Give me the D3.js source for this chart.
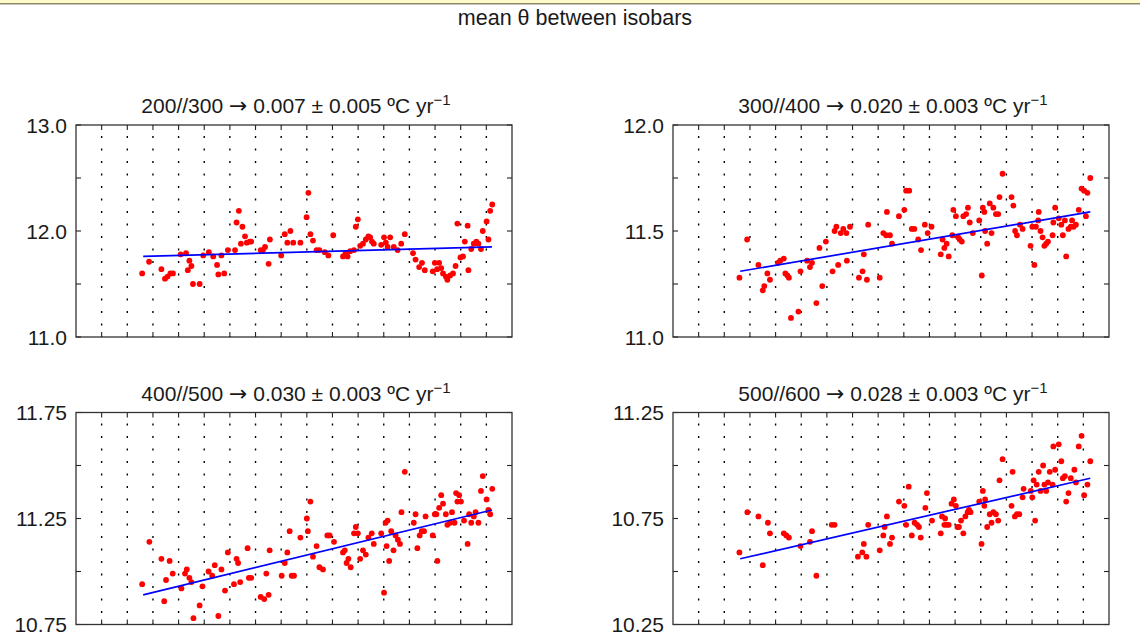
<!DOCTYPE html>
<html>
<head>
<meta charset="utf-8">
<script src="https://cdn.jsdelivr.net/npm/d3@7"></script>
<style>
body { margin: 0; background: #fff; }
text { font-family: "Liberation Sans", Arial, Helvetica, sans-serif; fill: #1a1a1a; }
</style>
</head>
<body>
<svg id="chart" width="1140" height="635"></svg>
<script>
const width = 1140;
const height = 635;

const mainTitle = "mean θ between isobars";
const layerNames = ["200//300", "300//400", "400//500", "500//600"];
const trendRates = ["0.007", "0.020", "0.030", "0.028"];
const trendErrors = ["0.005", "0.003", "0.003", "0.003"];

const yearStart = 1990;
const yearEnd = 2007;

const yDomains = [[11.0, 13.0], [11.0, 12.0], [10.75, 11.75], [10.25, 11.25]];
const yTicks = [
    [11.0, 11.5, 12.0, 12.5, 13.0],
    [11.0, 11.25, 11.5, 11.75, 12.0],
    [10.75, 11.0, 11.25, 11.5, 11.75],
    [10.25, 10.5, 10.75, 11.0, 11.25]
];
const yLabels = [[11.0, 12.0, 13.0], [11.0, 11.5, 12.0], [10.75, 11.25, 11.75], [10.25, 10.75, 11.25]];
const yFormats = [".1f", ".1f", ".2f", ".2f"];

// fitted trend lines, [year, theta] at start and end
const trendEnds = [
    [[1992.62, 11.76], [2006.22, 11.85]],
    [[1992.62, 11.31], [2006.27, 11.59]],
    [[1992.62, 10.89], [2006.22, 11.29]],
    [[1992.62, 10.56], [2006.27, 10.94]]
];

// mean theta (ºC) between isobars, [year, value]
const layer200_300 = [[1992.58,11.60],[1992.85,11.71],[1993.33,11.64],[1993.47,11.55],[1993.57,11.57],[1993.68,11.60],[1993.78,11.60],[1994.08,11.78],[1994.29,11.79],[1994.36,11.63],[1994.42,11.72],[1994.50,11.67],[1994.56,11.50],[1994.82,11.50],[1994.96,11.77],[1995.18,11.80],[1995.35,11.76],[1995.50,11.68],[1995.55,11.59],[1995.67,11.77],[1995.78,11.60],[1995.92,11.82],[1996.20,11.82],[1996.26,12.08],[1996.35,12.19],[1996.43,11.88],[1996.49,12.04],[1996.59,11.95],[1996.66,11.89],[1996.77,11.90],[1996.83,11.90],[1997.20,11.82],[1997.29,11.82],[1997.37,11.85],[1997.51,11.69],[1997.56,11.92],[1998.00,11.77],[1998.14,11.97],[1998.24,11.89],[1998.36,12.00],[1998.47,11.89],[1998.75,11.89],[1998.99,12.13],[1999.06,12.36],[1999.14,11.97],[1999.24,11.91],[1999.38,11.82],[1999.49,11.82],[1999.70,11.80],[1999.84,11.77],[2000.03,11.96],[2000.41,11.76],[2000.51,11.79],[2000.59,11.76],[2000.69,11.81],[2000.84,11.82],[2000.91,12.04],[2000.99,12.11],[2001.08,11.86],[2001.19,11.88],[2001.30,11.92],[2001.40,11.95],[2001.47,11.94],[2001.54,11.90],[2001.61,11.88],[2001.90,11.87],[2002.01,11.94],[2002.08,11.89],[2002.15,11.85],[2002.25,11.94],[2002.39,11.85],[2002.54,11.82],[2002.68,11.88],[2002.82,11.97],[2003.14,11.79],[2003.24,11.73],[2003.38,11.66],[2003.49,11.70],[2003.60,11.63],[2003.91,11.62],[2003.99,11.70],[2004.08,11.64],[2004.16,11.70],[2004.24,11.65],[2004.31,11.60],[2004.42,11.57],[2004.48,11.54],[2004.59,11.58],[2004.70,11.60],[2004.80,11.67],[2004.87,12.07],[2004.99,11.75],[2005.09,11.76],[2005.16,11.90],[2005.27,12.05],[2005.30,11.63],[2005.41,11.83],[2005.51,11.88],[2005.61,11.90],[2005.69,11.88],[2005.79,11.83],[2005.86,12.00],[2006.01,12.09],[2006.08,11.92],[2006.15,12.19],[2006.23,12.25]];

const layer300_400 = [[1992.59,11.28],[1992.89,11.46],[1993.33,11.34],[1993.50,11.22],[1993.56,11.24],[1993.68,11.30],[1993.78,11.27],[1994.09,11.35],[1994.18,11.36],[1994.32,11.37],[1994.38,11.30],[1994.46,11.29],[1994.52,11.28],[1994.60,11.09],[1994.89,11.12],[1994.97,11.31],[1995.23,11.36],[1995.34,11.33],[1995.42,11.35],[1995.59,11.16],[1995.71,11.42],[1995.82,11.24],[1995.96,11.45],[1996.22,11.31],[1996.30,11.50],[1996.37,11.52],[1996.44,11.34],[1996.54,11.49],[1996.64,11.51],[1996.76,11.49],[1996.78,11.36],[1996.90,11.52],[1997.25,11.28],[1997.39,11.31],[1997.44,11.39],[1997.56,11.27],[1997.61,11.53],[1998.06,11.28],[1998.20,11.49],[1998.31,11.48],[1998.34,11.59],[1998.46,11.48],[1998.54,11.44],[1998.81,11.57],[1999.02,11.60],[1999.09,11.69],[1999.21,11.69],[1999.31,11.51],[1999.41,11.51],[1999.56,11.46],[1999.67,11.41],[1999.82,11.53],[1999.93,11.49],[2000.08,11.52],[2000.44,11.39],[2000.51,11.46],[2000.58,11.42],[2000.67,11.44],[2000.75,11.38],[2000.89,11.48],[2000.93,11.60],[2001.03,11.57],[2001.12,11.47],[2001.18,11.46],[2001.26,11.45],[2001.32,11.57],[2001.43,11.58],[2001.50,11.61],[2001.57,11.54],[2001.69,11.49],[2001.94,11.55],[2002.04,11.29],[2002.08,11.61],[2002.14,11.59],[2002.17,11.50],[2002.25,11.44],[2002.35,11.63],[2002.42,11.49],[2002.49,11.61],[2002.59,11.58],[2002.68,11.58],[2002.73,11.66],[2002.85,11.77],[2003.20,11.66],[2003.27,11.62],[2003.34,11.50],[2003.41,11.48],[2003.53,11.53],[2003.63,11.51],[2003.94,11.43],[2004.01,11.52],[2004.09,11.34],[2004.15,11.52],[2004.24,11.55],[2004.26,11.59],[2004.33,11.50],[2004.41,11.47],[2004.48,11.43],[2004.55,11.44],[2004.62,11.45],[2004.80,11.48],[2004.83,11.54],[2004.90,11.61],[2005.04,11.56],[2005.14,11.53],[2005.20,11.48],[2005.28,11.55],[2005.33,11.38],[2005.42,11.51],[2005.51,11.52],[2005.56,11.55],[2005.62,11.52],[2005.71,11.53],[2005.82,11.60],[2005.93,11.70],[2006.03,11.69],[2006.10,11.57],[2006.16,11.68],[2006.27,11.75]];

const layer400_500 = [[1992.58,10.94],[1992.86,11.14],[1993.33,11.06],[1993.44,10.86],[1993.51,10.96],[1993.65,11.05],[1993.77,10.99],[1994.11,10.92],[1994.25,10.99],[1994.32,11.01],[1994.42,10.97],[1994.50,10.95],[1994.58,10.78],[1994.82,10.84],[1994.93,10.93],[1995.17,11.00],[1995.31,10.98],[1995.41,11.03],[1995.55,10.79],[1995.67,11.01],[1995.81,10.91],[1995.92,11.09],[1996.16,10.94],[1996.26,11.06],[1996.32,11.04],[1996.40,10.95],[1996.69,11.11],[1996.74,10.97],[1996.83,10.97],[1997.20,10.88],[1997.34,10.87],[1997.42,10.99],[1997.51,10.89],[1997.55,11.10],[1998.02,10.98],[1998.14,11.04],[1998.24,11.09],[1998.33,11.19],[1998.41,10.98],[1998.50,10.98],[1998.75,11.16],[1999.00,11.25],[1999.04,11.19],[1999.14,11.33],[1999.24,11.07],[1999.38,11.12],[1999.49,11.02],[1999.63,11.01],[1999.80,11.17],[1999.89,11.17],[2000.06,11.14],[2000.41,11.09],[2000.48,11.10],[2000.55,11.04],[2000.62,11.06],[2000.71,11.02],[2000.84,11.18],[2000.91,11.21],[2000.99,11.18],[2001.08,11.06],[2001.19,11.10],[2001.30,11.08],[2001.40,11.16],[2001.53,11.18],[2001.61,11.13],[2001.90,11.18],[2002.01,10.90],[2002.07,11.23],[2002.11,11.12],[2002.15,11.24],[2002.21,11.05],[2002.29,11.19],[2002.38,11.10],[2002.46,11.17],[2002.55,11.15],[2002.63,11.13],[2002.69,11.28],[2002.82,11.47],[2003.17,11.23],[2003.24,11.27],[2003.31,11.11],[2003.40,11.17],[2003.48,11.19],[2003.57,11.19],[2003.63,11.26],[2003.91,11.17],[2003.99,11.27],[2004.05,11.27],[2004.09,11.05],[2004.16,11.30],[2004.24,11.36],[2004.31,11.32],[2004.42,11.27],[2004.48,11.22],[2004.59,11.23],[2004.66,11.28],[2004.76,11.23],[2004.82,11.37],[2004.87,11.33],[2004.94,11.36],[2005.01,11.33],[2005.13,11.24],[2005.27,11.13],[2005.33,11.27],[2005.41,11.23],[2005.51,11.26],[2005.58,11.28],[2005.69,11.23],[2005.79,11.38],[2005.86,11.45],[2006.01,11.34],[2006.08,11.29],[2006.15,11.27],[2006.23,11.39]];

const layer500_600 = [[1992.59,10.59],[1992.90,10.78],[1993.33,10.76],[1993.50,10.53],[1993.70,10.73],[1993.78,10.68],[1994.32,10.68],[1994.42,10.67],[1994.52,10.66],[1994.97,10.62],[1995.34,10.64],[1995.42,10.69],[1995.59,10.48],[1996.19,10.72],[1996.30,10.72],[1997.21,10.57],[1997.38,10.59],[1997.44,10.63],[1997.54,10.57],[1997.61,10.72],[1998.06,10.60],[1998.20,10.67],[1998.25,10.71],[1998.34,10.76],[1998.46,10.63],[1998.54,10.66],[1998.81,10.83],[1999.02,10.81],[1999.09,10.72],[1999.19,10.90],[1999.31,10.67],[1999.42,10.73],[1999.52,10.72],[1999.59,10.71],[1999.66,10.66],[1999.84,10.80],[1999.90,10.87],[2000.10,10.74],[2000.44,10.68],[2000.49,10.76],[2000.58,10.72],[2000.61,10.75],[2000.67,10.72],[2000.75,10.72],[2000.86,10.82],[2000.95,10.84],[2001.03,10.81],[2001.09,10.71],[2001.15,10.71],[2001.23,10.74],[2001.32,10.68],[2001.40,10.76],[2001.49,10.78],[2001.54,10.79],[2001.60,10.78],[2001.94,10.83],[2002.03,10.63],[2002.08,10.88],[2002.14,10.81],[2002.17,10.84],[2002.25,10.71],[2002.35,10.77],[2002.42,10.73],[2002.49,10.78],[2002.59,10.77],[2002.68,10.74],[2002.73,10.93],[2002.85,11.03],[2003.20,10.81],[2003.24,10.97],[2003.33,10.76],[2003.41,10.77],[2003.50,10.77],[2003.63,10.85],[2003.67,10.89],[2003.95,10.88],[2004.01,10.85],[2004.06,10.93],[2004.12,10.74],[2004.18,10.91],[2004.26,10.97],[2004.33,10.88],[2004.43,11.00],[2004.48,10.91],[2004.55,10.88],[2004.62,10.92],[2004.69,10.97],[2004.80,10.91],[2004.83,11.09],[2004.90,10.98],[2005.04,11.10],[2005.14,11.02],[2005.20,10.94],[2005.28,10.95],[2005.33,10.83],[2005.42,10.87],[2005.51,10.94],[2005.65,10.98],[2005.71,10.92],[2005.82,11.09],[2005.93,11.14],[2006.03,10.86],[2006.16,10.91],[2006.27,11.02]];

const layerData = [layer200_300, layer300_400, layer400_500, layer500_600];

var svg = d3.select("#chart");

// window header strip at top
svg.append("rect").attr("x", 0).attr("y", 0).attr("width", width).attr("height", 3.5).attr("fill", "#fffacc");
svg.append("line").attr("x1", 0).attr("x2", width).attr("y1", 3.5).attr("y2", 3.5).attr("stroke", "#8d8d5a").attr("stroke-width", 1);
svg.append("line").attr("x1", 0).attr("x2", width).attr("y1", 4.5).attr("y2", 4.5).attr("stroke", "#c4c4c4").attr("stroke-width", 1);

svg.append("text")
    .attr("x", 575).attr("y", 25)
    .attr("text-anchor", "middle")
    .attr("font-size", 21.5)
    .text(mainTitle);

var panelW = 436, panelH = 212;
var lefts = [76, 673, 76, 673];
var tops = [125, 125, 412.5, 412.5];
var tickLen = 5;

layerData.forEach(function (data, i) {
    var g = svg.append("g").attr("transform", "translate(" + lefts[i] + "," + tops[i] + ")");

    var x = d3.scaleLinear().domain([yearStart, yearEnd]).range([0, panelW]);
    var y = d3.scaleLinear().domain(yDomains[i]).range([panelH, 0]);
    var years = d3.range(yearStart + 1, yearEnd);

    // dotted vertical grid
    g.selectAll(".grid").data(years).enter().append("line")
        .attr("x1", function (d) { return x(d); })
        .attr("x2", function (d) { return x(d); })
        .attr("y1", 0).attr("y2", panelH)
        .attr("stroke", "#000").attr("stroke-width", 1.4)
        .attr("stroke-dasharray", "2,10.5")
        .attr("stroke-dashoffset", 1.5);

    // inward x ticks top and bottom
    g.selectAll(".xtb").data(years).enter().append("line")
        .attr("x1", function (d) { return x(d); }).attr("x2", function (d) { return x(d); })
        .attr("y1", panelH).attr("y2", panelH - tickLen)
        .attr("stroke", "#222").attr("stroke-width", 1.1);
    g.selectAll(".xtt").data(years).enter().append("line")
        .attr("x1", function (d) { return x(d); }).attr("x2", function (d) { return x(d); })
        .attr("y1", 0).attr("y2", tickLen)
        .attr("stroke", "#222").attr("stroke-width", 1.1);

    // inward y ticks left and right
    g.selectAll(".ytl").data(yTicks[i]).enter().append("line")
        .attr("x1", 0).attr("x2", tickLen)
        .attr("y1", function (d) { return y(d); }).attr("y2", function (d) { return y(d); })
        .attr("stroke", "#222").attr("stroke-width", 1.1);
    g.selectAll(".ytr").data(yTicks[i]).enter().append("line")
        .attr("x1", panelW).attr("x2", panelW - tickLen)
        .attr("y1", function (d) { return y(d); }).attr("y2", function (d) { return y(d); })
        .attr("stroke", "#222").attr("stroke-width", 1.1);

    // y labels
    var fmt = d3.format(yFormats[i]);
    g.selectAll(".ylab").data(yLabels[i]).enter().append("text")
        .attr("x", -9)
        .attr("y", function (d) { return y(d); })
        .attr("dy", "0.36em")
        .attr("text-anchor", "end")
        .attr("font-size", 21)
        .text(function (d) { return fmt(d); });

    // points
    g.selectAll(".pt").data(data).enter().append("circle")
        .attr("cx", function (d) { return x(d[0]); })
        .attr("cy", function (d) { return y(d[1]); })
        .attr("r", 2.9)
        .attr("fill", "#ff0000");

    // trend line
    g.append("path")
        .datum(trendEnds[i])
        .attr("d", d3.line().x(function (d) { return x(d[0]); }).y(function (d) { return y(d[1]); }))
        .attr("fill", "none")
        .attr("stroke", "#0000ff")
        .attr("stroke-width", 1.7);

    // frame
    g.append("rect")
        .attr("x", 0).attr("y", 0).attr("width", panelW).attr("height", panelH)
        .attr("fill", "none").attr("stroke", "#333").attr("stroke-width", 1.3);

    // panel title
    var t = g.append("text")
        .attr("x", panelW / 2 + 2).attr("y", -12)
        .attr("text-anchor", "middle")
        .attr("font-size", 21);
    t.append("tspan").text(layerNames[i] + " ");
    t.append("tspan").attr("font-family", "DejaVu Sans").attr("font-size", 22).text("\u2192");
    t.append("tspan").text(" " + trendRates[i] + " \u00b1 " + trendErrors[i] + " \u00baC yr");
    t.append("tspan").attr("dy", -8).attr("font-size", 15).text("\u22121");
});
</script>
</body>
</html>
